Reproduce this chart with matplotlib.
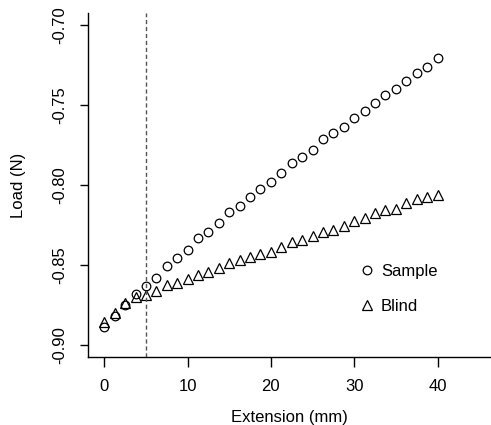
import matplotlib
matplotlib.use("Agg")
import matplotlib.pyplot as plt

# extension (mm), one reading every 1.25 mm
extension = [0.0, 1.25, 2.5, 3.75, 5.0, 6.25, 7.5, 8.75, 10.0, 11.25, 12.5,
             13.75, 15.0, 16.25, 17.5, 18.75, 20.0, 21.25, 22.5, 23.75, 25.0,
             26.25, 27.5, 28.75, 30.0, 31.25, 32.5, 33.75, 35.0, 36.25, 37.5,
             38.75, 40.0]

sample_load = [-0.8886, -0.8815, -0.8750, -0.8677, -0.8631, -0.8577, -0.8506,
               -0.8456, -0.8402, -0.8331, -0.8292, -0.8239, -0.8169, -0.8129,
               -0.8073, -0.8022, -0.7978, -0.7927, -0.7864, -0.7827, -0.7781,
               -0.7714, -0.7677, -0.7636, -0.7579, -0.7536, -0.7486, -0.7438,
               -0.7398, -0.7350, -0.7302, -0.7264, -0.7208]

blind_load = [-0.8854, -0.8798, -0.8739, -0.8698, -0.8688, -0.8661, -0.8621,
              -0.8611, -0.8583, -0.8563, -0.8542, -0.8519, -0.8486, -0.8469,
              -0.8448, -0.8433, -0.8417, -0.8386, -0.8354, -0.8344, -0.8319,
              -0.8292, -0.8277, -0.8254, -0.8223, -0.8208, -0.8177, -0.8156,
              -0.8146, -0.8114, -0.8088, -0.8077, -0.8063]

x_ticks = [0, 10, 20, 30, 40]
y_ticks = [-0.90, -0.85, -0.80, -0.75, -0.70]
cutoff = 5.0

plt.rcParams["font.family"] = ["Liberation Sans", "DejaVu Sans"]
FS = 12

fig = plt.figure(figsize=(4.91, 4.25), dpi=100)
ax = fig.add_axes([0.1798, 0.1593, 0.8202, 0.8101])

ax.plot(extension, sample_load, linestyle="none", marker="o", markersize=6.2,
        markerfacecolor="none", markeredgecolor="black", markeredgewidth=0.9,
        label="Sample")
ax.plot(extension, blind_load, linestyle="none", marker="^", markersize=7.5,
        markerfacecolor="none", markeredgecolor="black", markeredgewidth=0.9,
        label="Blind")
ax.axvline(cutoff, color="#555555", linewidth=1.0, linestyle=(0, (3, 2)))

ax.set_xlim(-1.92, 46.42)
ax.set_ylim(-0.9075, -0.6925)
ax.set_xticks(x_ticks)
ax.set_yticks(y_ticks)
ax.set_xticklabels([str(t) for t in x_ticks], fontsize=FS)
ax.set_yticklabels([f"{t:.2f}" for t in y_ticks], fontsize=FS,
                   rotation=90, va="center")
ax.tick_params(axis="x", direction="out", length=7.5, width=1, pad=8)
ax.tick_params(axis="y", direction="out", length=6, width=1, pad=9)

for side in ("top", "right"):
    ax.spines[side].set_visible(False)
for side in ("left", "bottom"):
    ax.spines[side].set_linewidth(1.0)
    ax.spines[side].set_color("black")

ax.set_xlabel("Extension (mm)", fontsize=FS, labelpad=12)
ax.set_ylabel("Load (N)", fontsize=FS, labelpad=19)

ax.legend(loc="upper left", bbox_to_anchor=(0.65, 0.29), frameon=False,
          fontsize=FS, handletextpad=0.25, labelspacing=1.2,
          handlelength=1.2, borderaxespad=0)

fig.savefig("out.png", dpi=100)
